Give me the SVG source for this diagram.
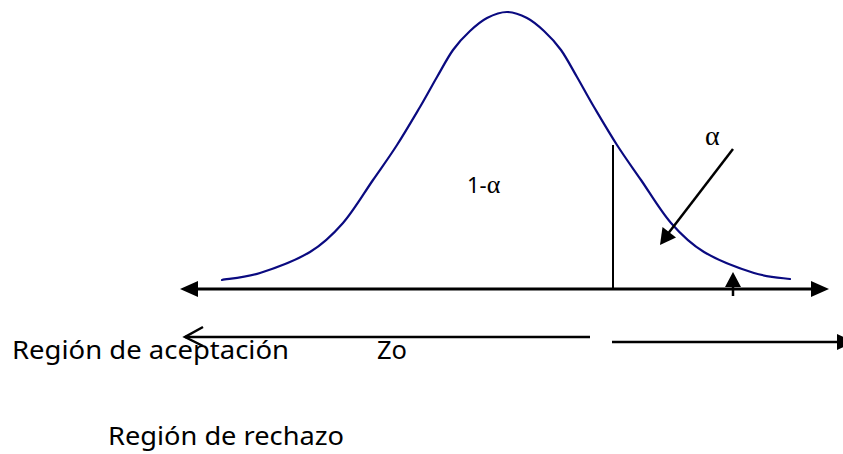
<svg xmlns="http://www.w3.org/2000/svg" width="843" height="454" viewBox="0 0 843 454">
<style>
.curve{fill:none;stroke:#0a0a80;stroke-width:2.2;stroke-linecap:round}
.ln{fill:none;stroke:#000;stroke-width:2.5}
.axis{fill:none;stroke:#000;stroke-width:3}
.head{fill:#000;stroke:none}
.lbl{font-family:"Noto Sans","Open Sans",sans-serif;font-size:25px;fill:#000}
.sym{font-family:"Liberation Serif",serif;fill:#000}
</style>
<rect width="843" height="454" fill="#fff"/>
<g id="curve">
<path class="curve" d="M222,280 C228.3,278.8 245.3,277.7 260,273 C274.7,268.3 296.2,260.3 310,252 C323.8,243.7 332.5,235 343,223 C353.5,211 364,193 373,180 C382,167 389.2,157.2 397,145 C404.8,132.8 413.3,118.3 420,107 C426.7,95.7 431.5,86.5 437,77 C442.5,67.5 447.5,57.7 453,50 C458.5,42.3 464.3,36.3 470,31 C475.7,25.7 480.8,21.2 487,18 C493.2,14.8 500.3,12 507,12 C513.7,12 520.8,14.8 527,18 C533.2,21.2 538.3,25.7 544,31 C549.7,36.3 555.5,42.3 561,50 C566.5,57.7 571.5,67.5 577,77 C582.5,86.5 587.3,95.7 594,107 C600.7,118.3 609.2,132.8 617,145 C624.8,157.2 632,167 641,180 C650,193 660.5,211 671,223 C681.5,235 690.2,243.7 704,252 C717.8,260.3 739.7,268.5 754,273 C768.3,277.5 784,278 790,279"/>
</g>
<g id="connectors">
<line class="axis" x1="195" y1="289" x2="815" y2="289"/>
<polygon class="head" points="180,289 198,281 198,297"/>
<polygon class="head" points="829,289 811,281 811,297"/>
<line class="ln" x1="613" y1="145" x2="613" y2="289" style="stroke-width:2"/>
<line class="ln" x1="733" y1="149" x2="667" y2="235"/>
<polygon class="head" points="660,245 662.5,227 676,237.5"/>
<line class="ln" x1="733" y1="296" x2="733" y2="284"/>
<polygon class="head" points="733,272 725,287 741,287"/>
<line class="ln" x1="590" y1="337" x2="185" y2="337"/>
<polyline class="ln" points="203,327 185,337 203,346"/>
<line class="ln" x1="612" y1="342" x2="840" y2="342"/>
<polygon class="head" points="855,342 837,334 837,350"/>
</g>
<g id="labels">
<text class="lbl" x="467" y="193" style="font-size:22px">1-<tspan class="sym" style="font-size:26px">α</tspan></text>
<text class="sym" x="705" y="145" style="font-size:28px">α</text>
<text class="lbl" x="12" y="359" textLength="277" lengthAdjust="spacingAndGlyphs">Región de aceptación</text>
<text class="lbl" x="377" y="359" textLength="30" lengthAdjust="spacingAndGlyphs">Zo</text>
<text class="lbl" x="108" y="445" textLength="236" lengthAdjust="spacingAndGlyphs">Región de rechazo</text>
</g>
</svg>
